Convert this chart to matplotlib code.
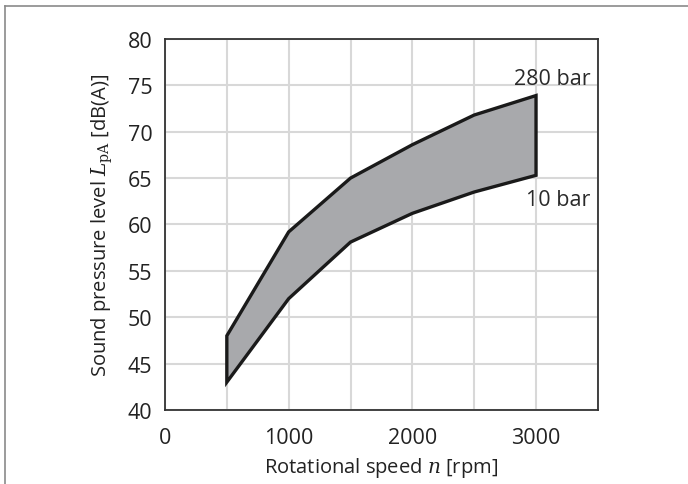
import numpy as np
import matplotlib.pyplot as plt
from matplotlib.lines import Line2D

plt.rcParams['font.family'] = ['Open Sans', 'DejaVu Sans']
plt.rcParams['mathtext.fontset'] = 'dejavuserif'

# data
speed = [500, 1000, 1500, 2000, 2500, 3000]
level_280 = [48.0, 59.2, 65.0, 68.6, 71.8, 73.9]
level_10 = [43.0, 52.0, 58.1, 61.2, 63.5, 65.3]
x_ticks = [0, 1000, 2000, 3000]
y_ticks = [40, 45, 50, 55, 60, 65, 70, 75, 80]

fig = plt.figure(figsize=(6.88, 4.85), dpi=100)
ax = fig.add_axes([0.2398, 0.1526, 0.6292, 0.765])

# outer frame lines (top and left)
fig.add_artist(Line2D([5 / 688, 1], [1 - 7 / 485, 1 - 7 / 485], transform=fig.transFigure,
                      color='#8a8a8a', lw=1.2))
fig.add_artist(Line2D([5 / 688, 5 / 688], [0, 1 - 7 / 485], transform=fig.transFigure,
                      color='#8a8a8a', lw=1.2))

poly_x = speed + speed[::-1]
poly_y = level_280 + level_10[::-1]
ax.fill(poly_x, poly_y, facecolor='#a8a9ac', edgecolor='#1a1a1a', lw=2.4,
        joinstyle='miter', zorder=3)

ax.set_xlim(0, 3500)
ax.set_ylim(40, 80)
ax.set_xticks(x_ticks)
ax.set_xticks(np.arange(0, 3501, 500), minor=True)
ax.set_yticks(y_ticks)
ax.grid(True, which='both', color='#d8d8d8', lw=1.5, zorder=0)
ax.set_axisbelow(True)
ax.tick_params(which='both', length=0, labelsize=15.5, colors='#222222')
ax.tick_params(axis='x', pad=12)
ax.tick_params(axis='y', pad=9)
for s in ax.spines.values():
    s.set_color('#333333')
    s.set_linewidth(1.3)

ax.set_xlabel(r'Rotational speed $n$ [rpm]', fontsize=14.5, color='#222222', labelpad=5)
ax.set_ylabel(r'Sound pressure level $L_\mathrm{pA}$ [dB(A)]', fontsize=14.5,
              color='#222222', labelpad=9)

ax.text(3440, 75.7, '280 bar', ha='right', va='center', fontsize=15.5, color='#2a2a2a')
ax.text(3440, 62.7, '10 bar', ha='right', va='center', fontsize=15.5, color='#2a2a2a')

fig.savefig('out.png', dpi=100)
